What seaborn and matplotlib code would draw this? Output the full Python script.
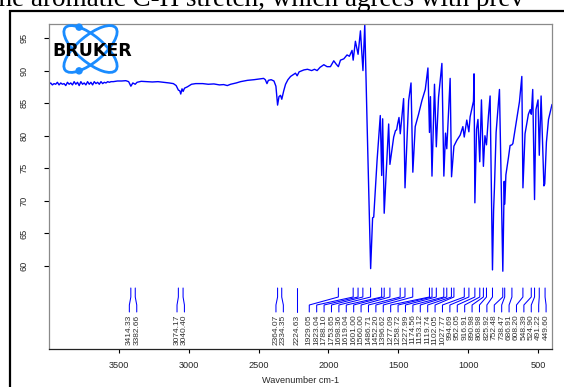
import numpy as np
import matplotlib
matplotlib.use("Agg")
import matplotlib.pyplot as plt
import matplotlib.transforms as mtransforms
from matplotlib.patches import Ellipse, Circle
import seaborn as sns

sns.set_style("white")
plt.rcParams["font.family"] = ["Liberation Sans", "DejaVu Sans"]

# ---------------- data ----------------
wavenumber = [
    4000, 3988, 3976, 3964, 3952, 3940, 3928, 3916, 3904, 3892, 3880, 3868, 3856, 3844,
    3832, 3820, 3808, 3796, 3784, 3772, 3760, 3748, 3736, 3724, 3712, 3700, 3688, 3676,
    3664, 3652, 3640, 3628, 3616, 3604, 3592, 3580, 3568, 3556, 3540, 3510, 3480, 3450,
    3430, 3414, 3400, 3383, 3370, 3340, 3300, 3260, 3220, 3180, 3140, 3110, 3090, 3074,
    3064, 3057, 3048, 3040, 3030, 3010, 2980, 2950, 2900, 2860, 2820, 2780, 2750, 2724,
    2700, 2660, 2629, 2580, 2533, 2500, 2464, 2452, 2440, 2430, 2410, 2390, 2376, 2364,
    2354, 2343, 2334, 2320, 2307, 2290, 2271, 2250, 2236, 2224, 2210, 2176, 2150, 2120,
    2100, 2081, 2060, 2033, 2010, 1986, 1962, 1945, 1929, 1914, 1890, 1867, 1850, 1831,
    1823, 1807, 1788, 1771, 1753, 1740, 1724, 1698, 1684, 1676, 1652, 1629, 1619, 1612,
    1601, 1569, 1560, 1533, 1520, 1512, 1505, 1495, 1486, 1462, 1452, 1426, 1409, 1396,
    1379, 1355, 1331, 1307, 1288, 1277, 1270, 1259, 1241, 1228, 1212, 1188, 1174, 1162,
    1153, 1129, 1119, 1102, 1081, 1057, 1038, 1028, 1010, 995, 986, 962, 958, 952,
    940, 930, 917, 905, 891, 880, 869, 855, 843, 826, 818, 812, 800, 776,
    752, 742, 738, 730, 712, 700, 687, 680, 664, 633, 616, 608, 593, 569,
    556, 548, 538, 525, 515, 500, 491, 478, 458, 452, 440, 425, 400,
]
transmittance = [
    87.9, 88.1, 87.8, 88.0, 87.9, 88.2, 87.8, 88.1, 87.9, 88.0, 87.7, 88.2, 87.9, 88.1,
    87.8, 88.3, 87.9, 88.2, 87.7, 88.3, 87.9, 88.1, 87.8, 88.3, 87.9, 88.2, 87.8, 88.3,
    88.0, 88.2, 87.9, 88.3, 88.0, 88.2, 88.1, 88.3, 88.2, 88.3, 88.3, 88.4, 88.4, 88.45,
    88.3, 87.6, 88.1, 87.9, 88.2, 88.35, 88.3, 88.25, 88.3, 88.2, 88.1, 88.0, 87.7, 87.0,
    86.9, 86.4, 87.2, 86.8, 87.3, 87.5, 87.9, 88.0, 88.0, 87.9, 87.95, 87.8, 87.85, 87.7,
    87.9, 88.1, 88.3, 88.5, 88.6, 88.7, 88.8, 88.6, 88.0, 88.5, 88.6, 88.4, 87.6, 84.7,
    86.0, 86.2, 85.6, 86.9, 87.9, 88.6, 89.1, 89.4, 89.6, 89.2, 89.8, 90.1, 90.2, 90.0,
    90.2, 90.0, 90.5, 90.9, 90.6, 90.6, 91.5, 91.0, 90.6, 91.6, 91.8, 92.4, 92.2, 93.1,
    91.6, 94.5, 92.5, 96.1, 90.0, 97.1, 82.4, 59.6, 67.4, 67.5, 76.2, 83.1, 73.9, 82.6,
    68.1, 81.8, 75.6, 79.8, 80.8, 80.9, 81.8, 82.8, 80.3, 85.7, 72.0, 85.4, 88.1, 74.4,
    81.4, 83.3, 85.4, 87.1, 90.4, 80.5, 86.0, 73.8, 87.9, 78.3, 85.9, 91.1, 73.8, 80.4,
    78.0, 88.8, 73.7, 78.4, 79.3, 80.1, 81.4, 79.8, 82.4, 80.6, 82.9, 85.3, 89.5, 69.7,
    81.0, 82.5, 76.0, 85.5, 75.3, 80.0, 78.6, 83.0, 86.1, 59.4, 68.5, 72.0, 80.5, 87.1,
    59.2, 73.0, 69.5, 74.0, 76.6, 78.5, 78.6, 78.8, 81.0, 85.2, 89.1, 72.0, 80.3, 83.3,
    84.0, 83.3, 87.1, 70.2, 84.0, 85.5, 77.0, 86.1, 72.3, 72.6, 79.0, 82.5, 84.8,
]
peak_positions = [
    3414.33, 3382.66, 3074.17, 3040.40, 2364.07, 2334.35, 2224.63, 1929.05, 1823.04,
    1788.10, 1753.65, 1698.36, 1619.04, 1601.00, 1560.00, 1486.71, 1452.20, 1396.62,
    1277.09, 1258.72, 1227.99, 1174.56, 1153.12, 1119.74, 1102.05, 1027.77, 994.69,
    952.05, 916.91, 890.98, 868.98, 825.92, 752.48, 738.47, 686.91, 608.20, 548.39,
    524.90, 491.22, 449.60,
]
x_ticks = [3500, 3000, 2500, 2000, 1500, 1000, 500]
y_ticks = [60, 65, 70, 75, 80, 85, 90, 95]
x_title = "Wavenumber cm-1"
page_text = "the aromatic C-H stretch, which agrees with prev"
logo_text = "BRUKER"

# ---------------- figure ----------------
W, H = 564, 387
fig = plt.figure(figsize=(W / 100, H / 100), dpi=100)
fig.patch.set_facecolor("white")

ax_l, ax_r, ax_t, ax_b = 49, 552, 24, 349
ax = fig.add_axes([ax_l / W, 1 - ax_b / H, (ax_r - ax_l) / W, (ax_b - ax_t) / H], zorder=2)

BLUE = "#0000FF"
sns.lineplot(x=wavenumber, y=transmittance, ax=ax, color=BLUE, lw=1.0,
             sort=False, estimator=None)

ax.set_xlim(4000, 400)
ax.set_ylim(47.26, 97.15)
ax.set_xticks(x_ticks)
ax.set_yticks(y_ticks)
ax.set_xticklabels([str(v) for v in x_ticks])
ax.set_yticklabels([str(v) for v in y_ticks], rotation=90, va="center")
ax.tick_params(axis="x", direction="out", length=3.0, width=0.8, color="black",
               labelsize=6.6, pad=5.5, bottom=True)
ax.tick_params(axis="y", direction="out", length=3.6, width=0.8, color="black",
               labelsize=6.6, pad=11.0, left=True)
for side in ["left", "top", "right"]:
    ax.spines[side].set_color("#8a8a8a")
    ax.spines[side].set_linewidth(0.9)
ax.spines["bottom"].set_color("#222222")
ax.spines["bottom"].set_linewidth(0.9)
ax.set_xlabel(x_title, fontsize=6.6)
ax.xaxis.set_label_coords(0.5, -0.083)
ax.set_ylabel("")
ax.grid(False)

# ---------------- peak labels ----------------
px_per_wn = (ax_r - ax_l) / 3600.0
spacing = 7.4 / px_per_wn  # in wavenumber units
p = -np.array(peak_positions, dtype=float)  # increasing left->right
lo_bound = -(4000 - 0.8 * spacing)
hi_bound = -(400 + 0.8 * spacing)

clusters = [[i] for i in range(len(p))]


def cluster_pos(idx):
    k = len(idx)
    c = np.mean(p[idx])
    pos = c + (np.arange(k) - (k - 1) / 2.0) * spacing
    if pos[-1] > hi_bound:
        pos -= pos[-1] - hi_bound
    if pos[0] < lo_bound:
        pos += lo_bound - pos[0]
    return pos


changed = True
while changed:
    changed = False
    for j in range(len(clusters) - 1):
        a = cluster_pos(clusters[j])
        b = cluster_pos(clusters[j + 1])
        if a[-1] + spacing > b[0] + 1e-9:
            clusters[j] = clusters[j] + clusters[j + 1]
            del clusters[j + 1]
            changed = True
            break

label_pos = np.zeros(len(p))
for cl in clusters:
    label_pos[cl] = cluster_pos(cl)
label_wn = -label_pos

trans = mtransforms.blended_transform_factory(ax.transData, ax.transAxes)
y_top, y_b1, y_b2, y_bot, y_txt = [(ax_b - v) / (ax_b - ax_t) for v in (288, 297, 305, 312, 314.5)]
for pk, lw_ in zip(peak_positions, label_wn):
    ax.plot([pk, pk, lw_, lw_], [y_top, y_b1, y_b2, y_bot], transform=trans,
            color=BLUE, lw=0.75, clip_on=False, solid_joinstyle="miter")
    ax.text(lw_, y_txt, f"{pk:.2f}", transform=trans, rotation=90, ha="center",
            va="top", fontsize=6.0, color="#333333")

# ---------------- decorations (page frame, text, logo) ----------------
ov = fig.add_axes([0, 0, 1, 1], zorder=5)
ov.set_xlim(0, W)
ov.set_ylim(H, 0)
ov.axis("off")
ov.patch.set_alpha(0)

ov.plot([10, 10], [10, H + 5], color="black", lw=1.6, solid_capstyle="butt")
ov.plot([9, W + 5], [11, 11], color="black", lw=1.6, solid_capstyle="butt")
ov.text(-9, 6.0, page_text, fontsize=19.5, family=["Liberation Serif", "DejaVu Serif"],
        va="baseline", ha="left", color="black")

LOGO = "#1a8cff"
cx, cy = 90.5, 49.0
a_ax, b_ax, ang = 33.0, 13.0, 40.0
for sgn in (1, -1):
    ov.add_patch(Ellipse((cx, cy), 2 * a_ax, 2 * b_ax, angle=sgn * ang, fill=False,
                         ec=LOGO, lw=2.0))


def ellipse_point(sgn, target):
    t = np.linspace(0, 2 * np.pi, 720)
    th = np.deg2rad(sgn * ang)
    xs = cx + a_ax * np.cos(t) * np.cos(th) - b_ax * np.sin(t) * np.sin(th)
    ys = cy + a_ax * np.cos(t) * np.sin(th) + b_ax * np.sin(t) * np.cos(th)
    k = np.argmin((xs - target[0]) ** 2 + (ys - target[1]) ** 2)
    return xs[k], ys[k]


for sgn, tgt in ((1, (79, 27.5)), (-1, (79, 70.5))):
    ov.add_patch(Circle(ellipse_point(sgn, tgt), 3.0, color=LOGO))
ov.text(91.8, 50.5, logo_text, ha="center", va="center", fontsize=12.5,
        fontweight="heavy", family=["DejaVu Sans"], color="black")

fig.savefig("out.png", dpi=100, facecolor="white")
